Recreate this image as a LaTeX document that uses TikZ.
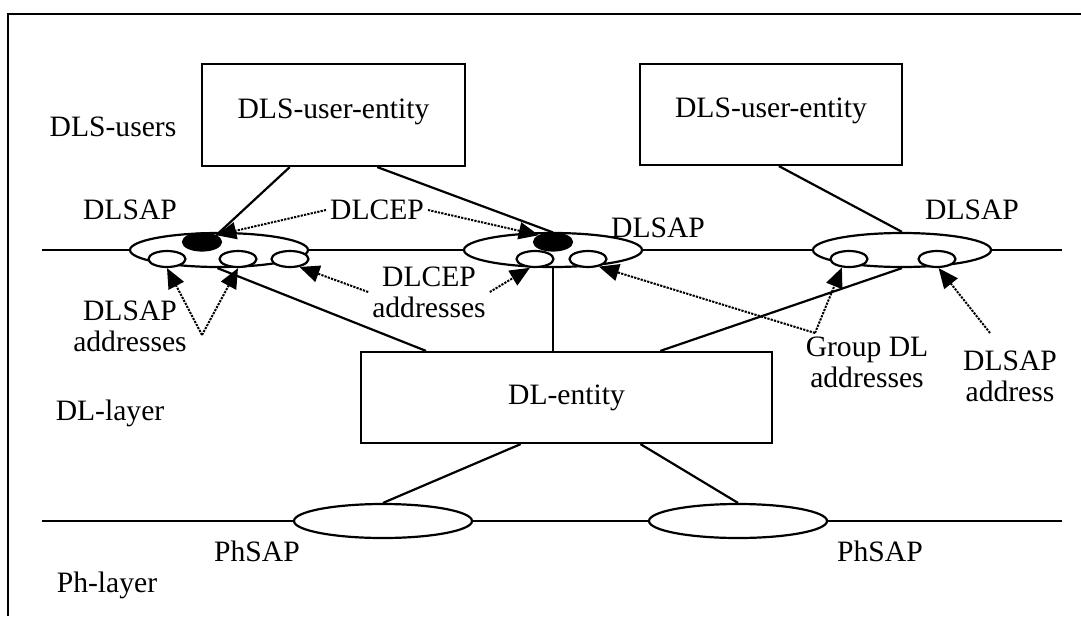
\documentclass[tikz,border=0pt]{standalone}
\usepackage{fontspec}
\setmainfont{Liberation Serif}
\usetikzlibrary{shapes.geometric,arrows.meta,calc}
\begin{document}
\begin{tikzpicture}[x = 0.5pt, y = -0.5pt, line width = 1.1pt, font = \fontsize{14.8}{15.5}\selectfont]
\tikzstyle{entity} = [shape = rectangle, draw, inner sep = 0pt]
\tikzstyle{sap} = [shape = ellipse, draw, fill = white, minimum width = 89pt, minimum height = 17pt, inner sep = 0pt]
\tikzstyle{addr} = [shape = ellipse, draw, fill = white, minimum width = 18.5pt, minimum height = 8pt, inner sep = 0pt]
\tikzstyle{cep} = [addr, fill = black, minimum width = 19pt, minimum height = 8.5pt]
\tikzstyle{pointer} = [line width = 1pt, dash pattern = on 1.1pt off 0.6pt, -{Triangle[length = 10pt, width = 8.5pt]}]
\tikzstyle{txt} = [inner sep = 1.5pt, align = center]
\useasboundingbox (0, 0) rectangle (1081, 616);
\draw (1081, 14) -- (8, 14) -- (8, 616);
\node[entity] (U-1) at (333.5, 115) [minimum width = 131.5pt, minimum height = 51pt, text height = 10pt, text depth = 7pt] {DLS-user-entity};
\node[entity] (U-2) at (771, 114.5) [minimum width = 131pt, minimum height = 50.5pt, text height = 10pt, text depth = 7pt] {DLS-user-entity};
\node[entity] (E) at (566.5, 397.5) [minimum width = 205.5pt, minimum height = 45.5pt] {DL-entity};
\coordinate (DL-w) at (42, 250);
\coordinate (DL-e) at (1062, 250);
\coordinate (Ph-w) at (42, 521);
\coordinate (Ph-e) at (1062, 521);
\node[sap] (S-1) at (219, 250) {};
\node[sap] (S-2) at (553, 250) {};
\node[sap] (S-3) at (902, 250) {};
\node[sap] (P-1) at (383, 521) {};
\node[sap] (P-2) at (738, 521) {};
\node[cep] (F-1) at (202, 242) {};
\node[cep] (F-2) at (553, 242) {};
\node[addr] (S-1-a) at (167, 259) {};
\node[addr] (S-1-b) at (238, 259) {};
\node[addr] (S-1-c) at (290, 259) {};
\node[addr] (S-2-a) at (535, 259) {};
\node[addr] (S-2-b) at (588, 259) {};
\node[addr] (S-3-a) at (849, 259) {};
\node[addr] (S-3-b) at (937, 259) {};
\draw (DL-w) -- (S-1) -- (S-2) -- (S-3) -- (DL-e);
\draw (Ph-w) -- (P-1) -- (P-2) -- (Ph-e);
\draw ($(U-1.south west)!0.335!(U-1.south east)$) -- (F-1.north east);
\draw ($(U-1.south west)!0.665!(U-1.south east)$) -- (F-2.north);
\draw ($(U-2.south west)!0.53!(U-2.south east)$) -- (S-3.north);
\draw (S-1.265) -- ($(E.north west)!0.16!(E.north east)$);
\draw (S-2.south) -- (S-2.south |- E.north);
\draw (S-3.south) -- ($(E.north west)!0.727!(E.north east)$);
\draw ($(E.south west)!0.389!(E.south east)$) -- (P-1.north);
\draw ($(E.south west)!0.679!(E.south east)$) -- (P-2.north);
\node[txt] (L-users) at (113, 127) {DLS-users};
\node[txt] (L-dl) at (110, 413) {DL-layer};
\node[txt] (L-ph) at (107, 585) {Ph-layer};
\node[txt] (N-1) at (130, 210) {DLSAP};
\node[txt] (N-2) at (658, 228) {DLSAP};
\node[txt] (N-3) at (972, 210) {DLSAP};
\node[txt] (D-1) at (377, 210) {DLCEP};
\node[txt] (A-1) at (130, 326) {DLSAP\\addresses};
\node[txt] (A-2) at (429, 292) {DLCEP\\addresses};
\node[txt] (G-1) at (867, 362) {Group DL\\addresses};
\node[txt] (A-3) at (1010, 376) {DLSAP\\address};
\node[txt] (Q-1) at (257, 551) {PhSAP};
\node[txt] (Q-2) at (880, 551) {PhSAP};
\coordinate (A-1-v) at (202, 335);
\coordinate (G-1-v) at (815, 333);
\coordinate (A-3-v) at (990, 333);
\draw[pointer] (D-1.west) -- (F-1.north east);
\draw[pointer] (D-1.east) -- (F-2.north west);
\draw[pointer] (A-1-v) -- (S-1-a.south);
\draw[pointer] (A-1-v) -- (S-1-b.south);
\draw[pointer] (A-2.west) -- (S-1-c.-40);
\draw[pointer] (A-2.east) -- (S-2-a.-120);
\draw[pointer] (G-1-v) -- (S-3-a.-130);
\draw[pointer] (G-1-v) -- (S-2-b.-35);
\draw[pointer] (A-3-v) -- (S-3-b.-80);
\end{tikzpicture}
\end{document}
